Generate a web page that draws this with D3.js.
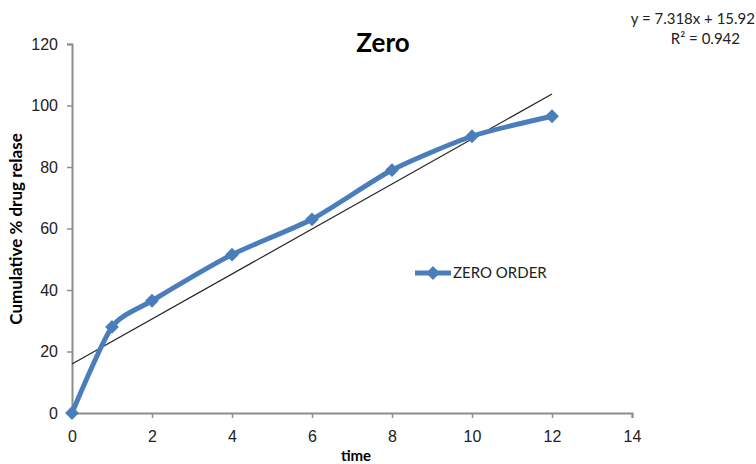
<!DOCTYPE html>
<html>
<head>
<meta charset="utf-8">
<script src="https://cdn.jsdelivr.net/npm/d3@7"></script>
<style>
  body { margin: 0; background: #fff; }
  svg { display: block; font-family: Lato, "Open Sans", sans-serif; }
</style>
</head>
<body>
<div id="chart"></div>
<script>
// data
const times = [0, 1, 2, 4, 6, 8, 10, 12];
const release = [0, 28, 36.5, 51.5, 63, 79, 90, 96.5];
const xTicks = [0, 2, 4, 6, 8, 10, 12, 14];
const yTicks = [0, 20, 40, 60, 80, 100, 120];
const slope = 7.318, intercept = 15.92;

const width = 756, height = 464;
const margin = { top: 44, right: 124, bottom: 51, left: 72 };

const svg = d3.select("#chart").append("svg")
  .attr("width", width)
  .attr("height", height);

const x = d3.scaleLinear().domain([0, 14]).range([margin.left, width - margin.right]);
const y = d3.scaleLinear().domain([0, 120]).range([height - margin.bottom, margin.top]);

// y axis
const yAxis = svg.append("g")
  .attr("transform", `translate(${margin.left},0)`)
  .call(d3.axisLeft(y).tickValues(yTicks).tickSize(5).tickPadding(9));
yAxis.select(".domain").attr("stroke", "#8c8c8c").attr("stroke-width", 2);
yAxis.selectAll(".tick line").attr("stroke", "#8c8c8c").attr("stroke-width", 1.5);
yAxis.selectAll("text").style("font-size", "16px").attr("fill", "#222");

// x axis
const xAxis = svg.append("g")
  .attr("transform", `translate(0,${y(0)})`)
  .call(d3.axisBottom(x).tickValues(xTicks).tickSize(5).tickPadding(13));
xAxis.select(".domain").attr("stroke", "#8c8c8c").attr("stroke-width", 2);
xAxis.selectAll(".tick line").attr("stroke", "#8c8c8c").attr("stroke-width", 1.5);
xAxis.selectAll("text").style("font-size", "16px").attr("fill", "#222");

// trendline
svg.append("line")
  .attr("x1", x(0)).attr("y1", y(intercept))
  .attr("x2", x(12)).attr("y2", y(slope * 12 + intercept))
  .attr("stroke", "#222")
  .attr("stroke-width", 1.2);

const pts = times.map((t, i) => [t, release[i]]);

// smoothed series line
const line = d3.line()
  .x(d => x(d[0]))
  .y(d => y(d[1]))
  .curve(d3.curveCardinal.tension(0.35));

svg.append("path")
  .datum(pts)
  .attr("d", line)
  .attr("fill", "none")
  .attr("stroke", "#4a7ebb")
  .attr("stroke-width", 5)
  .attr("stroke-linejoin", "round");

// square turned 45deg, like excel's diamond marker
const diamond = d3.symbol().type(d3.symbolSquare).size(95);

svg.selectAll(".mark")
  .data(pts)
  .join("path")
  .attr("class", "mark")
  .attr("d", diamond)
  .attr("transform", d => `translate(${x(d[0])},${y(d[1])}) rotate(45)`)
  .attr("fill", "#4a7ebb");

// title
svg.append("text")
  .attr("x", 383).attr("y", 52)
  .attr("text-anchor", "middle")
  .style("font-size", "26px")
  .style("font-weight", "bold")
  .text("Zero");

// trendline equation
svg.append("text")
  .attr("x", 755).attr("y", 24)
  .attr("text-anchor", "end")
  .style("font-size", "15px")
  .attr("fill", "#222")
  .text(`y = ${slope}x + ${intercept}`);
svg.append("text")
  .attr("x", 740).attr("y", 44)
  .attr("text-anchor", "end")
  .style("font-size", "15px")
  .attr("fill", "#222")
  .text("R² = 0.942");

// legend
const lg = svg.append("g").attr("transform", "translate(415,273)");
lg.append("line")
  .attr("x1", 0).attr("x2", 36)
  .attr("stroke", "#4a7ebb").attr("stroke-width", 5);
lg.append("path")
  .attr("d", diamond)
  .attr("transform", "translate(18,0) rotate(45)")
  .attr("fill", "#4a7ebb");
lg.append("text")
  .attr("x", 38).attr("y", 5)
  .style("font-size", "15px")
  .attr("fill", "#222")
  .text("ZERO ORDER");

// axis titles
svg.append("text")
  .attr("transform", "translate(22,229) rotate(-90)")
  .attr("text-anchor", "middle")
  .style("font-size", "17px")
  .style("font-weight", "bold")
  .text("Cumulative % drug relase");

svg.append("text")
  .attr("x", 356).attr("y", 461)
  .attr("text-anchor", "middle")
  .style("font-size", "15px")
  .style("font-weight", "bold")
  .text("time");
</script>
</body>
</html>
